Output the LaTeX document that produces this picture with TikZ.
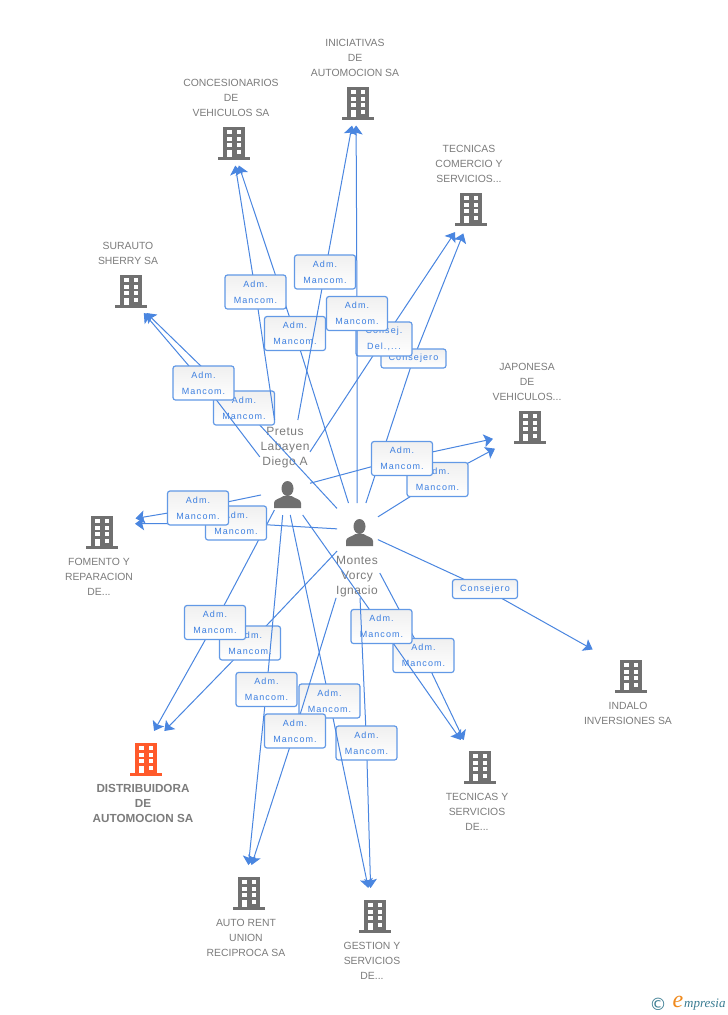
\documentclass[tikz,border=0pt]{standalone}
\usepackage{fontspec}
\setmainfont{Liberation Sans}
\newfontfamily\lblfont[LetterSpace=12]{Liberation Sans}
\newfontfamily\perfont[LetterSpace=4]{Liberation Sans}
\newfontfamily\logofont{Liberation Serif}
\newfontfamily\symfont{DejaVu Sans}
\usetikzlibrary{arrows.meta}
\definecolor{icongray}{HTML}{707070}
\definecolor{textgray}{HTML}{7C7C7C}
\definecolor{orangeco}{HTML}{FF5A2B}
\definecolor{edgeblue}{HTML}{4A86E0}
\definecolor{boxblue}{HTML}{6299E6}
\definecolor{lbltext}{HTML}{3C7FE0}
\definecolor{logoteal}{HTML}{3A7C92}
\definecolor{logoorange}{HTML}{F08A1D}
\tikzset{
  conn/.style={draw=edgeblue,line width=1pt,-{Stealth[length=9pt,width=13pt,inset=1.8pt]}},
  gaps/.style 2 args={shorten <=#1pt,shorten >=#2pt},
  mancom/.style={draw=boxblue,line width=1.2pt,rounded corners=2.5pt,top color=black!6,bottom color=white,
    minimum width=61pt,minimum height=34pt,inner sep=0pt,align=center,text=lbltext,
    font=\lblfont\fontsize{9}{15.6}\selectfont},
  narrowbox/.style={mancom,minimum width=56pt},
  flatbox/.style={mancom,minimum width=65pt,minimum height=19pt},
  anchorpt/.style={inner sep=0pt,minimum size=0pt},
  cotext/.style={inner sep=0pt,align=center,text=textgray,font=\fontsize{10.4}{15}\selectfont},
  maintext/.style={inner sep=0pt,align=center,text=textgray,font=\bfseries\fontsize{11.7}{15}\selectfont},
  pertext/.style={inner sep=0pt,align=center,text=textgray,font=\perfont\fontsize{12}{15}\selectfont},
  bldg/.pic={
    \fill[#1] (-11,-16) rectangle (11,14.5);
    \fill[#1] (-16,14) rectangle (16,16.5);
    \foreach \yy in {-13,-6,0,7}{\fill[white] (2.5,\yy) rectangle (7,\yy+4);}
    \foreach \yy in {-13,-6,0}{\fill[white] (-7,\yy) rectangle (-2.5,\yy+4);}
    \fill[white] (-7,7) rectangle (-2.5,14);
  },
  person/.pic={
    \fill[icongray] (0,-6.5) ellipse (6 and 7.5);
    \fill[icongray] (-13.5,13) -- (-13.5,8) .. controls (-13.5,4) and (-8,4) .. (-4,1)
      -- (4,1) .. controls (8,4) and (13.5,4) .. (13.5,8) -- (13.5,13) -- cycle;
  }
}
% name, via point, from, to, start gap, end gap, text
\newcommand\linkvia[8][mancom]{%
  \coordinate (via-#2) at (#3);
  \draw[conn,gaps={#6}{#7}] (#4.center) -- (via-#2) -- (#5.center);
  \node[#1] (#2) at (via-#2) {#8};
}
\begin{document}
\begin{tikzpicture}[x=1pt,y=-1pt]
\useasboundingbox (0,0) rectangle (728,1015);
\fill[white] (0,0) rectangle (728,1015);

% connector targets of the companies
\node[anchorpt] (inic) at (356,104) {};
\node[anchorpt] (conc) at (232,145) {};
\node[anchorpt] (teco) at (477,199) {};
\node[anchorpt] (sura) at (131,298) {};
\node[anchorpt] (japo) at (527,431.5) {};
\node[anchorpt] (fome) at (102,524) {};
\node[anchorpt] (inda) at (631,671) {};
\node[anchorpt] (tese) at (470,753) {};
\node[anchorpt] (gest) at (371,901) {};
\node[anchorpt] (auto) at (247,879) {};
\node[anchorpt] (dist) at (140,756) {};
% company icons
\pic at (358,103) {bldg=icongray};
\pic at (234,143) {bldg=icongray};
\pic at (471,209) {bldg=icongray};
\pic at (131,291) {bldg=icongray};
\pic at (530,427) {bldg=icongray};
\pic at (102,532) {bldg=icongray};
\pic at (631,676) {bldg=icongray};
\pic at (480,767) {bldg=icongray};
\pic at (375,916) {bldg=icongray};
\pic at (249,893) {bldg=icongray};
\pic at (146,759) {bldg=orangeco};

% persons
\node[anchorpt] (pret) at (285,490) {}; \pic at (287.5,495) {person};
\node[anchorpt] (mont) at (357,530) {}; \pic at (359.5,533) {person};

% texts
\node[cotext] (tinic) at (355,58)  {INICIATIVAS\\DE\\AUTOMOCION SA};
\node[cotext] (tconc) at (231,98)  {CONCESIONARIOS\\DE\\VEHICULOS SA};
\node[cotext] (tteco) at (469,164) {TECNICAS\\COMERCIO Y\\SERVICIOS...};
\node[cotext] (tsura) at (128,253.5) {SURAUTO\\SHERRY SA};
\node[cotext] (tjapo) at (527,382) {JAPONESA\\DE\\VEHICULOS...};
\node[cotext] (tfome) at (99,577)  {FOMENTO Y\\REPARACION\\DE...};
\node[cotext] (tinda) at (628,713.5) {INDALO\\INVERSIONES SA};
\node[cotext] (ttese) at (477,812) {TECNICAS Y\\SERVICIOS\\DE...};
\node[cotext] (tgest) at (372,961) {GESTION Y\\SERVICIOS\\DE...};
\node[cotext] (tauto) at (246,938) {AUTO RENT\\UNION\\RECIPROCA SA};
\node[maintext] (tdist) at (143,803) {DISTRIBUIDORA\\DE\\AUTOMOCION SA};
\node[pertext] (tpret) at (285,447.5) {Pretus\\Labayen\\Diego A};
\node[pertext] (tmont) at (357,576.5) {Montes\\Vorcy\\Ignacio};

% connectors with their boxes, in stacking order
\linkvia[flatbox]{a21}{485,589}{mont}{inda}{23}{44}{Consejero}
\linkvia[flatbox]{a6}{413.5,358.5}{mont}{teco}{28.4}{37}{Consejero}
\linkvia{a8}{437.5,479.5}{mont}{japo}{24.8}{36.3}{Adm.\\Mancom.}
\linkvia{a7}{402,458.5}{pret}{japo}{25.9}{34.8}{Adm.\\Mancom.}
\linkvia{a20}{423.5,655.5}{mont}{tese}{48.7}{14.4}{Adm.\\Mancom.}
\linkvia{a19}{381.5,626.5}{pret}{tese}{30.6}{15.9}{Adm.\\Mancom.}
\linkvia{a18}{366.5,743}{mont}{gest}{68}{13}{Adm.\\Mancom.}
\linkvia{a16}{329.5,701}{pret}{gest}{25.5}{13.3}{Adm.\\Mancom.}
\linkvia{a17}{295,731}{mont}{auto}{71}{14.7}{Adm.\\Mancom.}
\linkvia{a14}{250,643}{mont}{dist}{29}{34.9}{Adm.\\Mancom.}
\linkvia{a13}{215,622.5}{pret}{dist}{22.6}{28.7}{Adm.\\Mancom.}
\linkvia{a15}{266.5,689.5}{pret}{auto}{25.2}{14}{Adm.\\Mancom.}
\linkvia{a12}{236,523}{mont}{fome}{20}{33}{Adm.\\Mancom.}
\linkvia{a11}{198,508}{pret}{fome}{24.5}{34}{Adm.\\Mancom.}
\linkvia{a10}{244,408}{mont}{sura}{29.4}{21.5}{Adm.\\Mancom.}
\linkvia{a9}{203.5,383}{pret}{sura}{41.6}{19.7}{Adm.\\Mancom.}
\linkvia[narrowbox]{a5}{384,339}{pret}{teco}{45.6}{39.7}{Consej.\\Del.,...}
\linkvia{a2}{295,333.5}{mont}{conc}{28.3}{21.6}{Adm.\\Mancom.}
\linkvia{a3}{325,272}{pret}{inic}{71.2}{21.9}{Adm.\\Mancom.}
\linkvia{a1}{255.5,292}{pret}{conc}{70.8}{20.8}{Adm.\\Mancom.}
\linkvia{a4}{357,313.5}{mont}{inic}{27}{21.5}{Adm.\\Mancom.}

% logo
\node[inner sep=0pt,text=logoteal,font=\symfont\fontsize{17}{17}\selectfont] (lcopy) at (658,1004) {©};
\node[inner sep=0pt,text=logoorange,font=\logofont\itshape\fontsize{24}{24}\selectfont] (le) at (678,1002) {e};
\node[inner sep=0pt,anchor=west,text=logoteal,font=\logofont\itshape\fontsize{13}{14}\selectfont] (lname) at (684,1005) {mpresia};
\end{tikzpicture}
\end{document}
